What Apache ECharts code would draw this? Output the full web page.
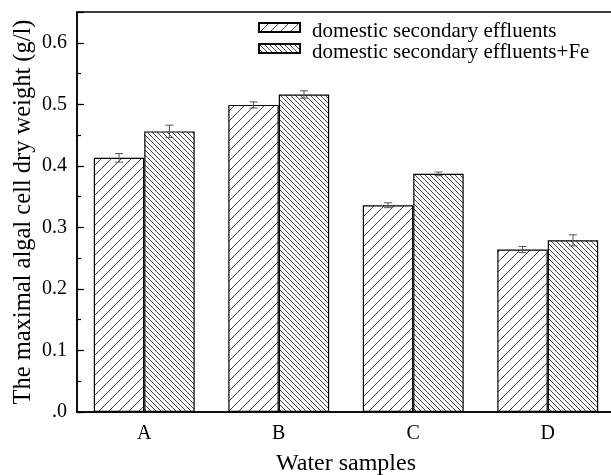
<!DOCTYPE html>
<html>
<head>
<meta charset="utf-8">
<script src="https://cdn.jsdelivr.net/npm/echarts@6/dist/echarts.min.js"></script>
<style>
html, body { margin: 0; padding: 0; background: #fff; }
#main { width: 611px; height: 475px; }
</style>
</head>
<body>
<div id="main"></div>
<script>
var categories = ['A', 'B', 'C', 'D'];
var seriesNames = ['domestic secondary effluents', 'domestic secondary effluents+Fe'];
var plainValues = [0.413, 0.499, 0.336, 0.264];
var plainErrors = [0.007, 0.005, 0.004, 0.005];
var feValues = [0.456, 0.516, 0.387, 0.279];
var feErrors = [0.010, 0.006, 0.003, 0.009];

var FONT = "'Liberation Serif', 'Times New Roman', serif";

// hatch fill: dir 1 = '/', dir -1 = '\'
function hatch(size, dir) {
    var c = document.createElement('canvas');
    c.width = size;
    c.height = size;
    var ctx = c.getContext('2d');
    ctx.fillStyle = '#fff';
    ctx.fillRect(0, 0, size, size);
    ctx.strokeStyle = '#444';
    ctx.lineWidth = 1;
    ctx.beginPath();
    if (dir > 0) {
        ctx.moveTo(-1, size + 1); ctx.lineTo(size + 1, -1);
        ctx.moveTo(-1, 1); ctx.lineTo(1, -1);
        ctx.moveTo(size - 1, size + 1); ctx.lineTo(size + 1, size - 1);
    } else {
        ctx.moveTo(-1, -1); ctx.lineTo(size + 1, size + 1);
        ctx.moveTo(size - 1, -1); ctx.lineTo(size + 1, 1);
        ctx.moveTo(-1, size - 1); ctx.lineTo(1, size + 1);
    }
    ctx.stroke();
    return { image: c, repeat: 'repeat' };
}

function errData(values, errors) {
    var d = [];
    for (var i = 0; i < values.length; i++) {
        d.push([i, values[i] - errors[i], values[i] + errors[i]]);
    }
    return d;
}

function errSeries(values, errors, sign) {
    return {
        type: 'custom',
        z: 10,
        silent: true,
        data: errData(values, errors),
        renderItem: function (params, api) {
            var band = api.size([1, 0])[0];
            var off = sign * band * 0.375 / 2;
            var lo = api.coord([api.value(0), api.value(1)]);
            var hi = api.coord([api.value(0), api.value(2)]);
            var x = lo[0] + off;
            var cap = 4;
            var st = { stroke: '#555', lineWidth: 1 };
            return {
                type: 'group',
                children: [
                    { type: 'line', shape: { x1: x, y1: lo[1], x2: x, y2: hi[1] }, style: st },
                    { type: 'line', shape: { x1: x - cap, y1: lo[1], x2: x + cap, y2: lo[1] }, style: st },
                    { type: 'line', shape: { x1: x - cap, y1: hi[1], x2: x + cap, y2: hi[1] }, style: st }
                ]
            };
        }
    };
}

var myChart = echarts.init(document.getElementById('main'));
var option = {
    animation: false,
    backgroundColor: '#fff',
    grid: {
        left: 77, right: -4, top: 12, bottom: 63,
        outerBoundsMode: 'none',
        containLabel: false,
        show: true, borderColor: '#000', borderWidth: 1.5
    },
    legend: {
        orient: 'vertical',
        left: 258,
        top: 21,
        padding: 0,
        itemGap: 0,
        itemWidth: 41,
        itemHeight: 17,
        // box sits in the upper part of the icon area, like the original
        icon: 'path://M0,0L41,0L41,9L0,9Z M0,17L0,17',
        data: seriesNames,
        textStyle: { fontFamily: FONT, fontSize: 21, color: '#000', lineHeight: 21, padding: [0, 0, 0, 7] }
    },
    xAxis: {
        type: 'category',
        data: categories,
        name: 'Water samples',
        nameLocation: 'middle',
        nameGap: 40,
        nameTextStyle: { fontFamily: FONT, fontSize: 24, color: '#000' },
        axisLine: { lineStyle: { color: '#000', width: 1.5 } },
        axisTick: { show: false },
        axisLabel: { fontFamily: FONT, fontSize: 20, color: '#000', margin: 12 }
    },
    yAxis: [{
        type: 'value',
        min: 0,
        max: 0.65,
        interval: 0.05,
        name: 'The maximal algal cell dry weight (g/l)',
        nameLocation: 'middle',
        nameGap: 41,
        nameMoveOverlap: false,
        nameTextStyle: { fontFamily: FONT, fontSize: 24.5, color: '#000' },
        axisLine: { show: true, lineStyle: { color: '#000', width: 1.5 } },
        axisTick: { show: true, inside: true, length: 4, lineStyle: { color: '#000', width: 1.2 } },
        splitLine: { show: false },
        axisLabel: {
            fontFamily: FONT, fontSize: 20, color: '#000', margin: 10,
            formatter: function (v) {
                var k = Math.round(v * 100);
                if (k % 10 !== 0) return '';
                if (k === 0) return '.0';
                return (k / 100).toFixed(1);
            }
        }
    }, {
        type: 'value',
        min: 0,
        max: 0.65,
        interval: 0.1,
        position: 'left',
        axisLine: { show: false },
        axisTick: { show: true, inside: true, length: 7, lineStyle: { color: '#000', width: 1.2 } },
        axisLabel: { show: false },
        splitLine: { show: false }
    }],
    series: [{
        name: seriesNames[0],
        type: 'bar',
        data: plainValues,
        barWidth: '37.5%',
        barGap: '0%',
        itemStyle: { color: hatch(10, 1), borderColor: '#000', borderWidth: 1.2 }
    }, {
        name: seriesNames[1],
        type: 'bar',
        data: feValues,
        barWidth: '37.5%',
        barGap: '0%',
        itemStyle: { color: hatch(5, -1), borderColor: '#000', borderWidth: 1.2 }
    },
    errSeries(plainValues, plainErrors, -1),
    errSeries(feValues, feErrors, 1)]
};
myChart.setOption(option);
</script>
</body>
</html>
